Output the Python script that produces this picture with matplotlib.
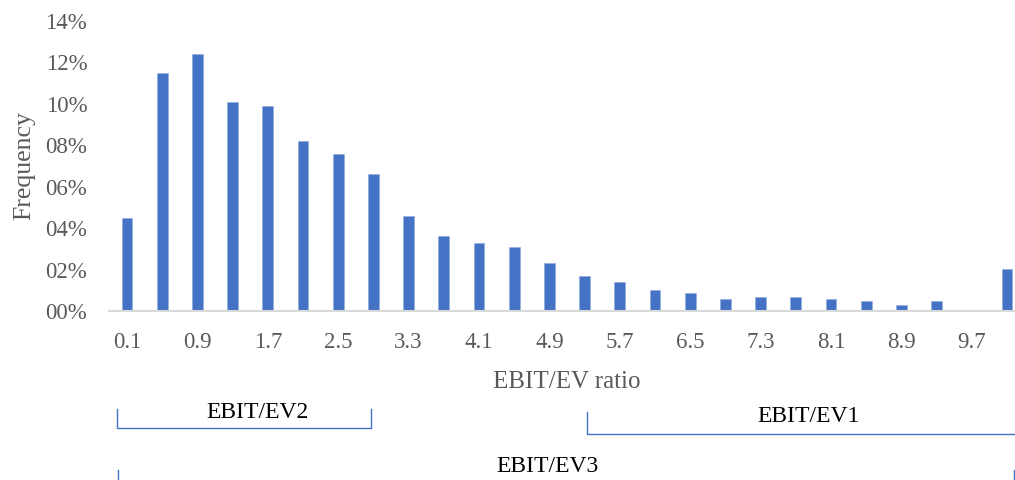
import matplotlib.pyplot as plt
from matplotlib.lines import Line2D

# EBIT/EV ratio bins and share of firms in each (percent)
bins = ['0.1', '0.5', '0.9', '1.3', '1.7', '2.1', '2.5', '2.9', '3.3', '3.7',
        '4.1', '4.5', '4.9', '5.3', '5.7', '6.1', '6.5', '6.9', '7.3', '7.7',
        '8.1', '8.5', '8.9', '9.3', '9.7', '10.1']
freq = [4.5, 11.5, 12.4, 10.1, 9.9, 8.2, 7.6, 6.6, 4.6, 3.6,
        3.3, 3.1, 2.3, 1.7, 1.4, 1.0, 0.85, 0.6, 0.7, 0.7,
        0.6, 0.5, 0.3, 0.5, 0.05, 2.05]
yticks = [0, 2, 4, 6, 8, 10, 12, 14]
ylabels = ['00%', '02%', '04%', '06%', '08%', '10%', '12%', '14%']

W, H = 1015, 480

plt.rcParams['font.family'] = ['Liberation Serif', 'DejaVu Serif']
grey = '#595959'
blue = '#4472C4'

fig = plt.figure(figsize=(W / 100, H / 100), dpi=100)
ax = fig.add_axes([109.4 / W, 169 / H, 915.2 / W, 290 / H])

pos = list(range(len(bins)))
ax.bar(pos, freq, width=0.31, color=blue, edgecolor='#8FAADC', linewidth=0.4)

ax.set_xlim(-0.5, len(bins) - 0.5)
ax.set_ylim(0, 14)
ax.set_xticks(pos[::2])
ax.set_xticklabels(bins[::2])
ax.set_yticks(yticks)
ax.set_yticklabels(ylabels)
ax.tick_params(length=0, labelsize=16.5, labelcolor=grey)
ax.tick_params(axis='x', pad=15)
ax.tick_params(axis='y', pad=16)

for s in ['top', 'right', 'left']:
    ax.spines[s].set_visible(False)
ax.spines['bottom'].set_color('#D9D9D9')
ax.spines['bottom'].set_linewidth(1.5)

ax.set_xlabel('EBIT/EV ratio', fontsize=18, color=grey, labelpad=13)
ax.set_ylabel('Frequency', fontsize=18.5, color=grey, labelpad=7)


def px(x, y):
    return x / W, 1 - y / H


def bracket(x0, x1, top, bottom):
    xs, ys = zip(*[px(x0, top), px(x0, bottom), px(x1, bottom), px(x1, top)])
    fig.add_artist(Line2D(xs, ys, color=blue, lw=1.0))


# group brackets below the axis
bracket(117, 371, 409, 428)
bracket(587, 1017, 412, 434)
bracket(118, 1014, 470, 484)

fig.text(*px(257, 412), 'EBIT/EV2', fontsize=17, ha='center', va='center')
fig.text(*px(809, 416), 'EBIT/EV1', fontsize=17, ha='center', va='center')
fig.text(*px(547, 466), 'EBIT/EV3', fontsize=17, ha='center', va='center')

fig.savefig('out.png', dpi=100)
